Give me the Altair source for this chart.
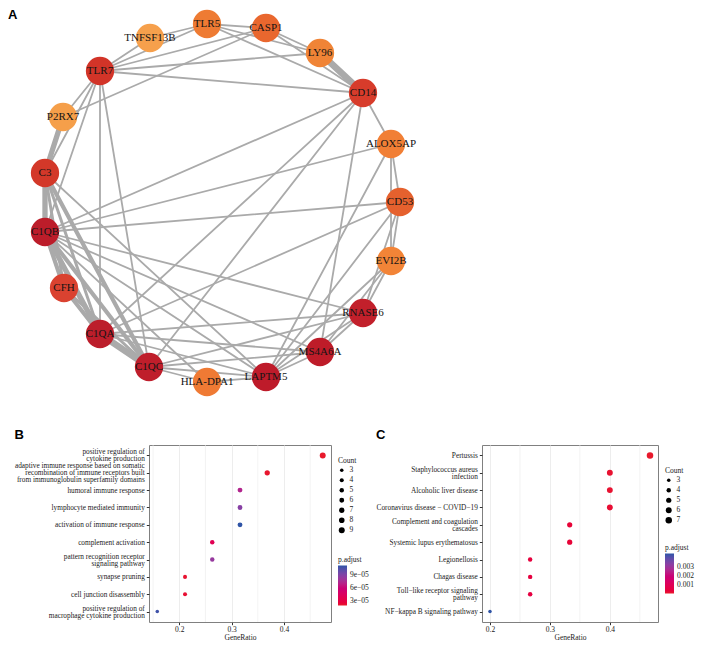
import math
import altair as alt
import pandas as pd

SERIF = "Liberation Serif"
SANS = "Liberation Sans"

# ---------------- Panel A: PPI network ----------------
NODE_NAMES = ["TNFSF13B", "TLR5", "CASP1", "LY96", "CD14", "ALOX5AP", "CD53", "EVI2B",
              "RNASE6", "MS4A6A", "LAPTM5", "HLA-DPA1", "C1QC", "C1QA", "CFH", "C1QB",
              "C3", "P2RX7", "TLR7"]
NODE_X = [150, 207, 266, 320, 363, 391, 400, 391, 363, 320, 266, 207, 149, 100, 64, 45, 45, 63, 100]
NODE_Y = [33, 19, 23, 48, 88, 139, 197, 256, 308, 347, 372, 377, 362, 329, 283, 227, 168, 112, 66]
NODE_COLORS = ["#F6A04C", "#EE7B33", "#E9672E", "#F08436", "#D73C2B", "#F17F35", "#E5612E",
               "#F28437", "#C2202B", "#BE1C29", "#BE1B2A", "#EF7A34", "#BF1E2B", "#BC1E2B",
               "#DA4230", "#BC1D2A", "#D33829", "#F59F4A", "#D23428"]

EDGE_A = ["TNFSF13B", "TNFSF13B", "TLR5", "TLR5", "TLR5", "TLR5", "CASP1", "CASP1", "CASP1", "CASP1",
          "LY96", "LY96", "TLR7", "TLR7", "TLR7", "TLR7", "TLR7", "TLR7", "P2RX7", "C3",
          "C3", "C3", "C3", "C1QB", "C1QB", "C1QB", "CFH", "CFH", "C1QA", "CD14",
          "CD14", "CD14", "CD14", "CD14", "ALOX5AP", "ALOX5AP", "ALOX5AP", "ALOX5AP", "CD53", "CD53",
          "CD53", "CD53", "CD53", "EVI2B", "EVI2B", "EVI2B", "RNASE6", "RNASE6", "RNASE6", "RNASE6",
          "RNASE6", "MS4A6A", "MS4A6A", "MS4A6A", "MS4A6A", "LAPTM5", "LAPTM5", "LAPTM5", "LAPTM5", "LAPTM5",
          "HLA-DPA1", "HLA-DPA1"]
EDGE_B = ["TLR5", "TLR7", "TLR7", "CASP1", "LY96", "CD14", "LY96", "TLR7", "P2RX7", "CD14",
          "TLR7", "CD14", "CD14", "P2RX7", "C3", "C1QB", "C1QA", "C1QC", "C3", "C1QB",
          "CFH", "C1QA", "C1QC", "CFH", "C1QA", "C1QC", "C1QA", "C1QC", "C1QC", "ALOX5AP",
          "C1QB", "C1QA", "C1QC", "MS4A6A", "CD53", "EVI2B", "C1QB", "LAPTM5", "EVI2B", "RNASE6",
          "LAPTM5", "C1QB", "C1QA", "RNASE6", "LAPTM5", "MS4A6A", "MS4A6A", "LAPTM5", "C1QB", "C1QA",
          "C1QC", "LAPTM5", "C1QB", "C1QA", "C1QC", "HLA-DPA1", "C1QC", "C1QA", "C1QB", "C3",
          "C1QC", "C1QB"]
EDGE_SCORE = [1, 1, 1, 1, 1, 1, 1, 1, 1, 1,
              1, 5, 1, 1, 1, 1, 1, 1, 4, 4,
              2, 2, 3, 3, 4, 3, 3, 2, 5, 1,
              1, 1, 1, 1, 1, 1, 1, 1, 1, 1,
              1, 1, 1, 1, 1, 1, 1, 1, 1, 1,
              1, 1, 1, 1, 1, 1, 1, 1, 1, 1,
              1, 1]

# ---------------- Panel B: GO enrichment ----------------
B_TERMS = ["positive regulation of\ncytokine production",
           "adaptive immune response based on somatic\nrecombination of immune receptors built\nfrom immunoglobulin superfamily domains",
           "humoral immune response",
           "lymphocyte mediated immunity",
           "activation of immune response",
           "complement activation",
           "pattern recognition receptor\nsignaling pathway",
           "synapse pruning",
           "cell junction disassembly",
           "positive regulation of\nmacrophage cytokine production"]
B_RATIO = [0.474, 0.368, 0.316, 0.316, 0.316, 0.263, 0.263, 0.211, 0.211, 0.158]
B_COUNT = [9, 7, 6, 6, 6, 5, 5, 4, 4, 3]
B_PADJ = [1.9e-05, 2.0e-05, 7.3e-05, 8.9e-05, 1.135e-04, 3.8e-05, 8.4e-05, 2.1e-05, 2.2e-05, 1.10e-04]
B_COUNT_BREAKS = [3, 4, 5, 6, 7, 8, 9]
B_PADJ_BREAKS = [3e-05, 6e-05, 9e-05]
B_XTICKS = [0.2, 0.3, 0.4]
B_XMINOR = [0.15, 0.25, 0.35, 0.45]

# ---------------- Panel C: KEGG enrichment ----------------
C_TERMS = ["Pertussis",
           "Staphylococcus aureus\ninfection",
           "Alcoholic liver disease",
           "Coronavirus disease \u2212 COVID\u221219",
           "Complement and coagulation\ncascades",
           "Systemic lupus erythematosus",
           "Legionellosis",
           "Chagas disease",
           "Toll\u2212like receptor signaling\npathway",
           "NF\u2212kappa B signaling pathway"]
C_RATIO = [0.467, 0.400, 0.400, 0.400, 0.333, 0.333, 0.267, 0.267, 0.267, 0.200]
C_COUNT = [7, 6, 6, 6, 5, 5, 4, 4, 4, 3]
C_PADJ = [1.0e-04, 2.0e-04, 2.0e-04, 2.5e-04, 3.5e-04, 3.5e-04, 4.5e-04, 5.0e-04, 5.5e-04, 4.4e-03]
C_COUNT_BREAKS = [3, 4, 5, 6, 7]
C_PADJ_BREAKS = [0.001, 0.002, 0.003]
C_XTICKS = [0.2, 0.3, 0.4]
C_XMINOR = [0.25, 0.35, 0.45]

PADJ_COLORS = ["#E8192C", "#C0147F", "#2F54A6"]

# ---------------- layout settings ----------------
NET_LEFT = 149    # page x where the network plot area starts (aligned with panel B plot)
NET_RIGHT = 700
NET_Y0 = 17
NET_H = 376
LABEL_SIZE = 7.3
LINE_H = 7.0

# ---------------- build network ----------------
pos = {n: (x, y) for n, x, y in zip(NODE_NAMES, NODE_X, NODE_Y)}
nodes = pd.DataFrame({"gene": NODE_NAMES, "x": NODE_X, "y": NODE_Y})
edges = pd.DataFrame({
    "x": [pos[a][0] for a in EDGE_A],
    "y": [pos[a][1] for a in EDGE_A],
    "x2": [pos[b][0] for b in EDGE_B],
    "y2": [pos[b][1] for b in EDGE_B],
    "score": EDGE_SCORE,
})

xs = alt.Scale(domain=[NET_LEFT, NET_RIGHT], nice=False, zero=False)
ys = alt.Scale(domain=[NET_Y0, NET_Y0 + NET_H], nice=False, zero=False, reverse=True)

edge_layer = alt.Chart(edges).mark_rule(color="#aaaaaa", strokeCap="round").encode(
    x=alt.X("x:Q", scale=xs, axis=None),
    y=alt.Y("y:Q", scale=ys, axis=None),
    x2="x2:Q",
    y2="y2:Q",
    strokeWidth=alt.StrokeWidth("score:Q", scale=alt.Scale(domain=[1, 5], range=[1.8, 6.5]), legend=None),
)
node_layer = alt.Chart(nodes).mark_circle(size=800, opacity=1).encode(
    x=alt.X("x:Q", scale=xs, axis=None),
    y=alt.Y("y:Q", scale=ys, axis=None),
    color=alt.Color("gene:N", scale=alt.Scale(domain=NODE_NAMES, range=NODE_COLORS), legend=None),
)
label_layer = alt.Chart(nodes).mark_text(font=SERIF, fontSize=11, color="#141414").encode(
    x=alt.X("x:Q", scale=xs, axis=None),
    y=alt.Y("y:Q", scale=ys, axis=None),
    text="gene:N",
)
network = alt.layer(edge_layer, node_layer, label_layer).properties(
    width=NET_RIGHT - NET_LEFT, height=NET_H,
    title=alt.TitleParams("A", anchor="start", frame="group", font=SANS, fontSize=13,
                          fontWeight="bold", offset=-12, dx=-(NET_LEFT - 8)),
    view=alt.ViewBackground(strokeWidth=0),
)


def size_range(breaks):
    lo, hi = breaks[0], breaks[-1]
    return [math.pi / 4 * (1.33 * (3 + 5 * math.sqrt((b - lo) / (hi - lo)))) ** 2 for b in breaks]


LINES_TEST = "length(split(datum.value, '\\n')) == "


def dot_panel(letter, terms, ratio, count, padj, count_breaks, padj_breaks, padj_label_expr,
              xticks, xminor, width, height, count_y, padj_y):
    df = pd.DataFrame({"term": terms, "GeneRatio": ratio, "Count": count, "padj": padj})
    lo, hi = min(ratio), max(ratio)
    ext = (hi - lo) * 0.05
    xscale = alt.Scale(domain=[lo - ext, hi + ext], nice=False, zero=False)
    xaxis = alt.Axis(values=xticks, format=".1f", title="GeneRatio", labelPadding=0.5, titlePadding=0.5)
    minor = alt.Chart(pd.DataFrame({"m": xminor})).mark_rule(color="#ebebeb", strokeWidth=0.6).encode(
        x=alt.X("m:Q", scale=xscale, axis=xaxis),
    )
    pmin, pmax = min(padj), max(padj)
    yaxis = alt.Axis(
        title=None, labelExpr="split(datum.label, '\\n')", labelLineHeight=LINE_H,
        labelPadding=2, labelLimit=300, labelFontSize=LABEL_SIZE,
        labelOffset={"condition": [{"test": LINES_TEST + "3", "value": -LINE_H},
                                   {"test": LINES_TEST + "2", "value": -LINE_H / 2}],
                     "value": 0},
    )
    pts = alt.Chart(df).mark_circle(opacity=1).encode(
        x=alt.X("GeneRatio:Q", scale=xscale, axis=xaxis),
        y=alt.Y("term:N", sort=terms, scale=alt.Scale(type="point", padding=0.6), axis=yaxis),
        size=alt.Size("Count:O", scale=alt.Scale(domain=count_breaks, range=size_range(count_breaks)),
                      legend=alt.Legend(orient="none", legendX=width + 7, legendY=count_y, title="Count",
                                        direction="vertical", symbolType="circle", symbolFillColor="black",
                                        symbolStrokeWidth=0, rowPadding=1, labelOffset=4, titlePadding=2)),
        color=alt.Color("padj:Q",
                        scale=alt.Scale(domain=[pmin, (pmin + pmax) / 2, pmax], range=PADJ_COLORS),
                        legend=alt.Legend(orient="none", legendX=width + 7, legendY=padj_y, title="p.adjust",
                                          direction="vertical", gradientLength=40, gradientThickness=9,
                                          gradientStrokeWidth=0, values=padj_breaks,
                                          labelExpr=padj_label_expr, labelOffset=3, titlePadding=2)),
    )
    return alt.layer(minor, pts).properties(
        width=width, height=height,
        title=alt.TitleParams(letter, anchor="start", font=SANS, fontSize=13, fontWeight="bold", offset=3),
    )


panel_b = dot_panel("B", B_TERMS, B_RATIO, B_COUNT, B_PADJ, B_COUNT_BREAKS, B_PADJ_BREAKS,
                    "format(datum.value * 100000, '.0f') + 'e\u221205'",
                    B_XTICKS, B_XMINOR, 182, 177, 12, 111)
panel_c = dot_panel("C", C_TERMS, C_RATIO, C_COUNT, C_PADJ, C_COUNT_BREAKS, C_PADJ_BREAKS,
                    "format(datum.value, '.3f')",
                    C_XTICKS, C_XMINOR, 176, 177, 22, 99)

row = alt.hconcat(panel_b, panel_c, spacing=5).resolve_scale(
    x="independent", y="independent", color="independent", size="independent")

chart = alt.vconcat(network, row, spacing=30).resolve_scale(
    x="independent", y="independent", color="independent", size="independent"
).properties(padding=0, background="white").configure(
    font=SERIF
).configure_axis(
    labelFont=SERIF, titleFont=SERIF, labelFontSize=7.5, titleFontSize=7.5,
    labelColor="#1a1a1a", titleColor="#1a1a1a", titleFontWeight="normal",
    tickColor="#333333", tickSize=2.7, gridColor="#ebebeb", gridWidth=0.9, domain=False,
).configure_view(
    stroke="#808080", strokeWidth=1
).configure_legend(
    labelFont=SERIF, titleFont=SERIF, labelFontSize=7.5, titleFontSize=7.5,
    titleFontWeight="normal", labelColor="#1a1a1a", titleColor="#1a1a1a",
)

chart.save("out.html", embed_options={"renderer": "svg", "actions": False})
